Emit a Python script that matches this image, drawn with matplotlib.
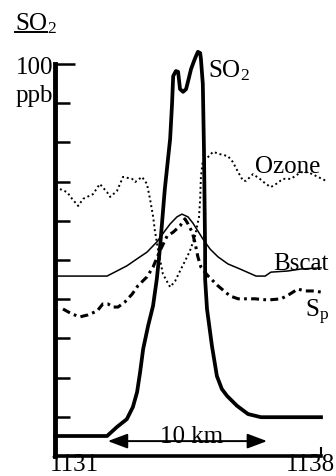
import matplotlib
matplotlib.use("Agg")
import matplotlib.pyplot as plt
from matplotlib.lines import Line2D

# ---- data : time axis 1131 -> 1138, values in ppb-like units
so2_t = [1131.0, 1132.37, 1132.63, 1132.89, 1133.05, 1133.16, 1133.24, 1133.32, 1133.45,
         1133.58, 1133.68, 1133.76, 1133.89, 1134.03, 1134.08, 1134.11, 1134.18, 1134.24,
         1134.29, 1134.37, 1134.45, 1134.53, 1134.58, 1134.66, 1134.71, 1134.76, 1134.82,
         1134.84, 1134.89, 1134.92, 1134.95, 1134.95, 1135.0, 1135.13, 1135.26, 1135.39,
         1135.53, 1135.79, 1136.08, 1136.42, 1138.0]
so2_v = [5.1, 5.1, 7.4, 9.4, 12.5, 16.3, 21.4, 27.3, 33.2,
         38.3, 45.2, 52.8, 68.1, 80.9, 89.8, 96.9, 98.2, 98.0,
         93.6, 92.9, 93.6, 96.7, 98.7, 100.8, 102.0, 103.1, 102.8,
         101.3, 94.9, 78.3, 52.8, 45.2, 37.5, 28.1, 20.4, 17.1,
         15.3, 12.8, 10.7, 9.9, 9.9]

ozone_t = [1131.13, 1131.32, 1131.45, 1131.61, 1131.74, 1132.0, 1132.18, 1132.37, 1132.45,
           1132.63, 1132.79, 1133.03, 1133.11, 1133.29, 1133.42, 1133.5, 1133.58, 1133.63,
           1133.71, 1133.84, 1134.03, 1134.16, 1134.29, 1134.42, 1134.55, 1134.68, 1134.79,
           1134.82, 1134.84, 1134.89, 1135.03, 1135.16, 1135.34, 1135.55, 1135.68, 1135.82,
           1135.95, 1136.03, 1136.21, 1136.39, 1136.55, 1136.68, 1136.82, 1137.0, 1137.21,
           1137.47, 1137.66, 1137.92, 1138.13]
ozone_v = [68.1, 67.3, 65.6, 63.8, 65.6, 66.8, 69.4, 67.3, 66.1,
           67.6, 71.2, 70.7, 69.9, 71.2, 69.4, 65.6, 61.2, 57.4,
           52.8, 46.4, 43.1, 44.6, 47.2, 49.7, 52.3, 55.9, 61.0,
           65.6, 71.2, 75.3, 76.3, 77.6, 77.0, 76.5, 75.0, 72.4,
           70.2, 70.2, 71.9, 70.7, 69.4, 68.6, 69.4, 70.7, 70.7,
           72.4, 72.4, 71.2, 70.2]

bscat_t = [1131.0, 1132.37, 1132.63, 1132.89, 1133.16, 1133.42, 1133.68, 1133.89, 1134.03,
           1134.21, 1134.34, 1134.5, 1134.63, 1134.76, 1134.89, 1135.08, 1135.29, 1135.55,
           1135.87, 1136.29, 1136.53, 1136.68, 1137.13, 1137.47, 1138.0]
bscat_v = [45.9, 45.9, 47.2, 48.5, 50.3, 52.0, 54.6, 57.4, 59.2,
           61.0, 61.7, 61.0, 59.4, 57.4, 55.4, 52.8, 50.8, 49.0,
           47.7, 45.9, 45.9, 46.9, 47.2, 47.7, 48.0]

sp_t = [1131.21, 1131.45, 1131.66, 1131.87, 1132.11, 1132.26, 1132.39, 1132.53, 1132.66,
        1132.84, 1133.03, 1133.18, 1133.42, 1133.58, 1133.76, 1133.95, 1134.11, 1134.29,
        1134.42, 1134.5, 1134.61, 1134.68, 1134.76, 1134.84, 1134.92, 1135.03, 1135.29,
        1135.61, 1135.82, 1136.26, 1136.61, 1136.95, 1137.18, 1137.39, 1137.58, 1137.84,
        1138.0]
sp_v = [37.5, 36.2, 35.5, 36.0, 37.0, 38.8, 38.8, 38.0, 38.0,
        39.3, 41.3, 43.4, 45.7, 48.2, 52.3, 56.1, 57.1, 58.7,
        60.5, 59.2, 57.1, 54.6, 50.8, 48.2, 47.2, 45.9, 43.4,
        40.8, 40.1, 40.1, 39.8, 40.1, 41.3, 42.6, 42.1, 42.1,
        41.8]

x_ticks = [1131, 1138]
x_labels = ["1131", "1138"]
span_start, span_end = 1132.39, 1136.58   # the "10 km" arrow

# -------------------------- #

plt.rcParams['font.family'] = ['Liberation Serif', 'DejaVu Serif']
plt.rcParams['mathtext.fontset'] = 'custom'
plt.rcParams['mathtext.rm'] = 'Liberation Serif'
plt.rcParams['mathtext.it'] = 'Liberation Serif:italic'
fs = 18

W, H = 336, 477
fig = plt.figure(figsize=(W / 100, H / 100), dpi=100)
ax = fig.add_axes([55 / W, 20 / H, 266 / W, 392 / H])
ax.set_xlim(1131, 1138)
ax.set_ylim(0, 100)

ax.plot(so2_t, so2_v, color='black', lw=2.7, clip_on=False, zorder=5)
ax.plot(ozone_t, ozone_v, color='black', lw=1.4, ls=(0, (1, 1.5)), clip_on=False)
ax.plot(bscat_t, bscat_v, color='black', lw=1.1, clip_on=False)
ax.plot(sp_t, sp_v, color='black', lw=2.2, ls=(0, (2.6, 1.4, 0.9, 1.4)), clip_on=False)

# axes look
for s in ['top', 'right']:
    ax.spines[s].set_visible(False)
ax.spines['left'].set_linewidth(3.5)
ax.spines['bottom'].set_linewidth(2.6)
ax.spines['left'].set_bounds(0, 100)

ax.set_yticks([100], labels=['100'])
ax.set_yticks(range(10, 100, 10), minor=True)
ax.tick_params(axis='y', which='major', direction='in', length=14.5, width=1.8,
               labelsize=fs, pad=1)
ax.tick_params(axis='y', which='minor', direction='in', length=11, width=1.8)
ax.set_xticks(x_ticks[1:], labels=[])
ax.tick_params(axis='x', which='major', direction='in', length=6.5, width=1.5)

# x labels placed by hand (they are not centred on the ticks)
xt = ax.get_xaxis_transform()
ax.annotate(x_labels[0], xy=(x_ticks[0], 0), xycoords=xt, xytext=(-5, -14),
            textcoords='offset pixels', ha='left', va='baseline', fontsize=fs,
            annotation_clip=False)
ax.annotate(x_labels[1], xy=(x_ticks[1], 0), xycoords=xt, xytext=(14, -14),
            textcoords='offset pixels', ha='right', va='baseline', fontsize=fs,
            annotation_clip=False)

# curve labels
ax.text(1135.03, 96.9, r'SO$_2$', fontsize=fs, va='baseline', ha='left')
ax.text(1136.26, 72.4, 'Ozone', fontsize=fs, va='baseline', ha='left')
ax.text(1136.74, 47.7, 'Bscat', fontsize=fs, va='baseline', ha='left')
ax.text(1137.58, 35.5, r'S$_\mathrm{p}$', fontsize=fs, va='baseline', ha='left')

# 10 km span arrow
ax.annotate('', xy=(span_start, 3.8), xytext=(span_end, 3.8),
            arrowprops=dict(arrowstyle='<|-|>,head_length=0.8,head_width=0.3',
                            mutation_scale=15, lw=1.4, color='black',
                            shrinkA=0, shrinkB=0))
ax.text(1134.6, 3.6, '10 km', fontsize=fs, ha='center', va='baseline')

# unit labels top-left
fig.text(15 / W, 1 - 30 / H, r'SO$_2$', fontsize=fs, ha='left', va='baseline')
fig.add_artist(Line2D([15 / W, 47 / W], [1 - 33 / H, 1 - 33 / H], color='black', lw=1.4))
fig.text(53 / W, 1 - 102 / H, 'ppb', fontsize=fs, ha='right', va='baseline')

fig.savefig('out.png', dpi=100)
